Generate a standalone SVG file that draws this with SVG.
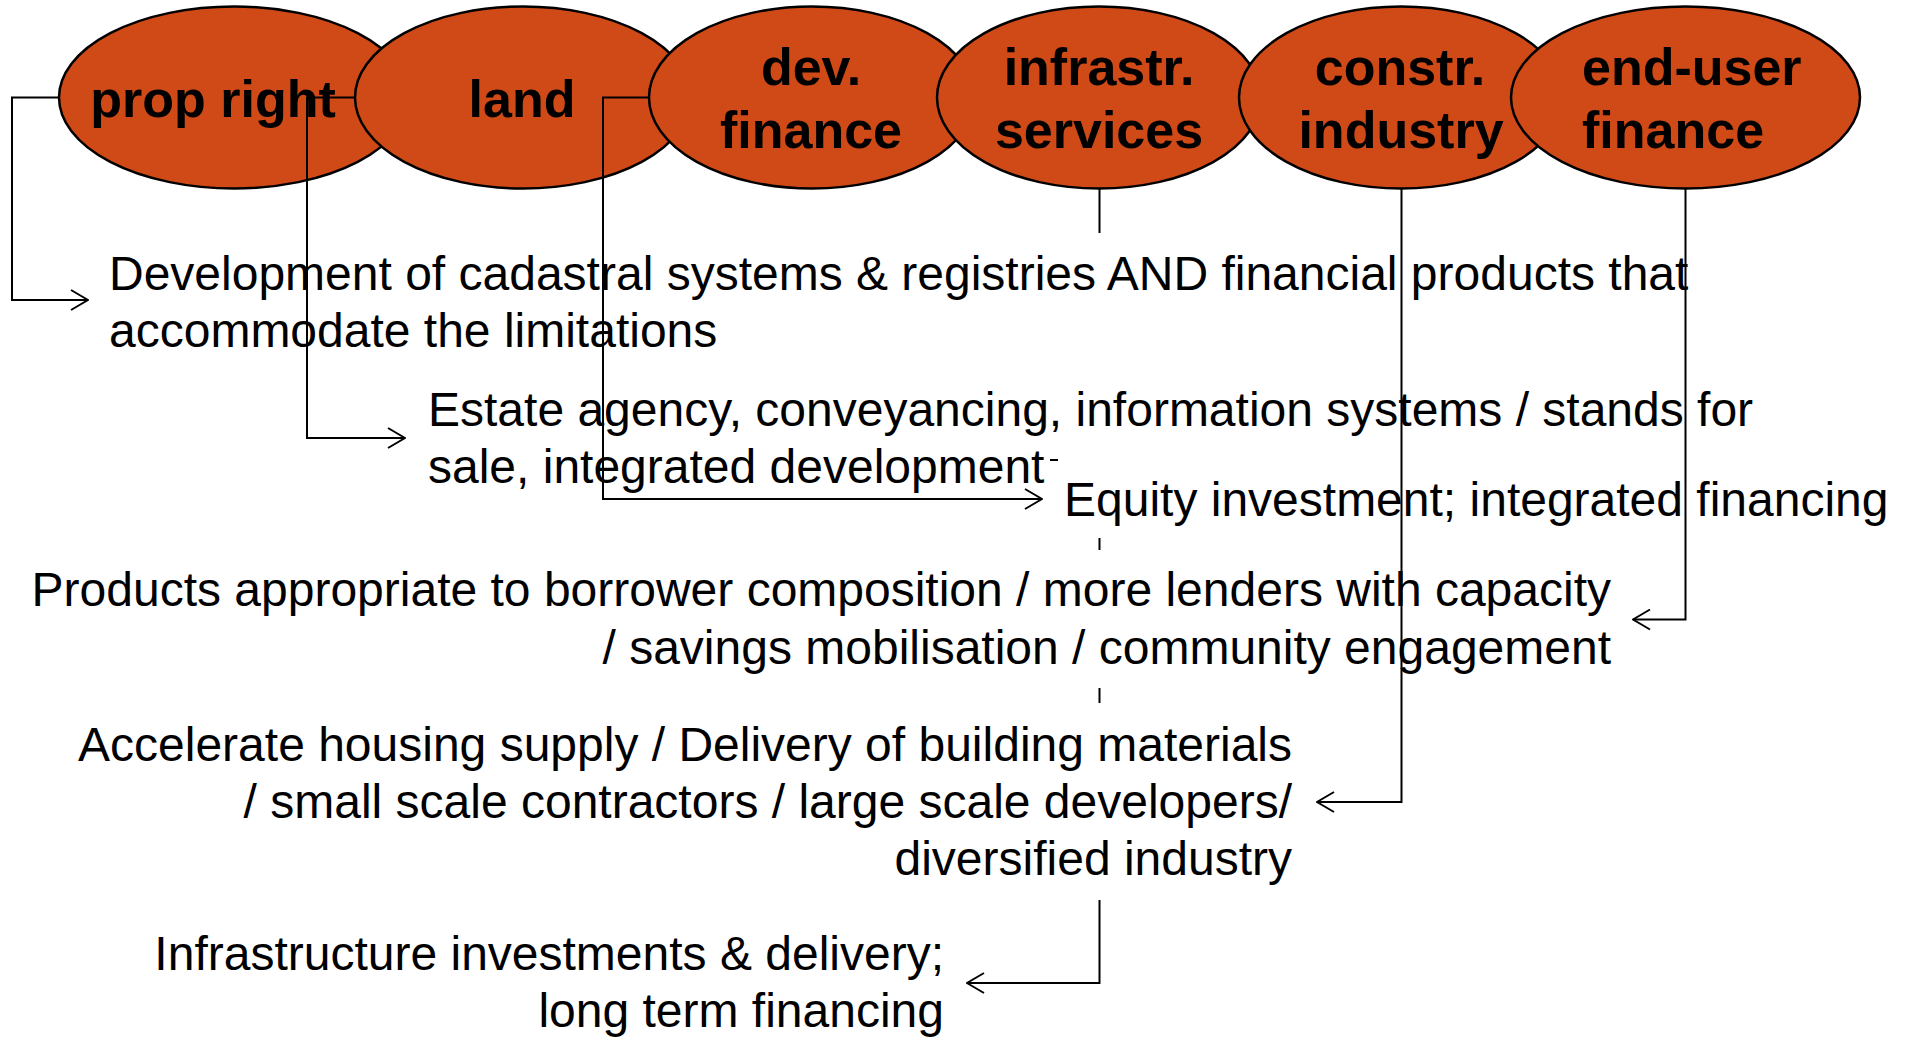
<svg xmlns="http://www.w3.org/2000/svg" width="1909" height="1038" viewBox="0 0 1909 1038">
<style>
.node ellipse{fill:#D04A17;stroke:#000;stroke-width:2.5}
.lbl{font-family:"Liberation Sans",Arial,sans-serif;font-weight:bold;font-size:52px;fill:#000;text-anchor:middle}
.body{font-family:"Liberation Sans",Arial,sans-serif;font-size:48px;fill:#000}
.r{text-anchor:end}
.conn path{fill:none;stroke:#000;stroke-width:2}
</style>
<defs>
<marker id="arr" markerWidth="20" markerHeight="24" viewBox="0 0 20 24" refX="19" refY="12" orient="auto" markerUnits="userSpaceOnUse">
<path d="M2,2 L19,12 L2,22" fill="none" stroke="#000" stroke-width="2"/>
</marker>
</defs>
<rect width="1909" height="1038" fill="#fff"/>
<g id="n-prop" class="node"><ellipse cx="234" cy="97.5" rx="175" ry="91"/><text class="lbl" x="213" y="117">prop right</text></g>
<g id="n-land" class="node"><ellipse cx="523" cy="97.5" rx="168" ry="91"/><text class="lbl" x="522" y="117">land</text></g>
<g id="n-dev" class="node"><ellipse cx="812" cy="97.5" rx="163" ry="91"/><text class="lbl" x="811" y="85">dev.</text><text class="lbl" x="811" y="148">finance</text></g>
<g id="n-infra" class="node"><ellipse cx="1099" cy="97.5" rx="162" ry="91"/><text class="lbl" x="1099" y="85">infrastr.</text><text class="lbl" x="1099" y="148">services</text></g>
<g id="n-constr" class="node"><ellipse cx="1401" cy="97.5" rx="162" ry="91"/><text class="lbl" x="1400" y="85">constr.</text><text class="lbl" x="1401" y="148">industry</text></g>
<g id="n-enduser" class="node"><ellipse cx="1685.5" cy="97.5" rx="174.5" ry="91"/><text class="lbl" style="text-anchor:start" x="1582" y="85">end-user</text><text class="lbl" style="text-anchor:start" x="1582" y="148">finance</text></g>
<g id="t-cadastral"><text class="body" x="109" y="290">Development of cadastral systems &amp; registries AND financial products that</text><text class="body" x="109" y="347">accommodate the limitations</text></g>
<g id="t-estate"><text class="body" x="428" y="426">Estate agency, conveyancing, information systems / stands for</text><text class="body" x="428" y="483">sale, integrated development</text></g>
<g id="t-equity"><text class="body" x="1064" y="516">Equity investment; integrated financing</text></g>
<g id="t-products"><text class="body r" x="1611" y="606">Products appropriate to borrower composition / more lenders with capacity</text><text class="body r" x="1611" y="664">/ savings mobilisation / community engagement</text></g>
<g id="t-housing"><text class="body r" x="1292" y="761">Accelerate housing supply / Delivery of building materials</text><text class="body r" x="1292" y="818">/ small scale contractors / large scale developers/</text><text class="body r" x="1292" y="875">diversified industry</text></g>
<g id="t-infra"><text class="body r" x="944" y="970">Infrastructure investments &amp; delivery;</text><text class="body r" x="944" y="1027">long term financing</text></g>
<g id="connectors" class="conn">
<path d="M59 97.5 H12 V300 H88" marker-end="url(#arr)"/>
<path d="M355 97.5 H307 V438 H405" marker-end="url(#arr)"/>
<path d="M649 97.5 H603 V499 H1042" marker-end="url(#arr)"/>
<path d="M1099.5 188.5 V233"/>
<path d="M1099.5 538 V550"/>
<path d="M1099.5 688 V703"/>
<path d="M1099.5 900 V983 H967" marker-end="url(#arr)"/>
<path d="M1401.5 188.5 V802 H1317" marker-end="url(#arr)"/>
<path d="M1685.5 188.5 V619.5 H1633" marker-end="url(#arr)"/>
<path d="M1050 460 H1058"/>
</g>
</svg>
